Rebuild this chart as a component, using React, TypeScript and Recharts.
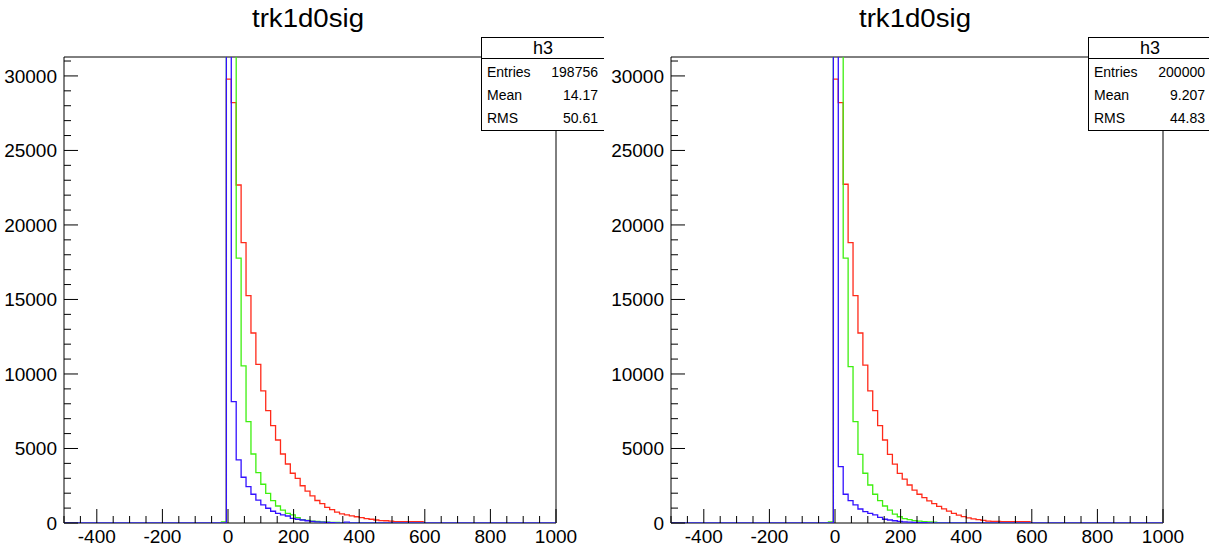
import React from 'react'
import { LineChart, Line, XAxis, YAxis, ReferenceLine } from 'recharts'

// histogram binning: 100 bins of width 15 from -500 to 1000
const BIN_LO = -500
const BIN_HI = 1000
const BIN_W = 15
const N_BINS = 100
const Y_MAX = 31270

// bin contents, listed from the first filled bin (its low edge in *Start)
const leftRedStart = -5
const leftRed = [
  29780, 28210, 22680, 18810, 15260, 12750, 10650, 8860, 7540, 6530,
  5570, 4630, 3960, 3340, 3000, 2500, 2140, 1820, 1510, 1300,
  1050, 900, 730, 610, 540, 480, 420, 360, 290, 250,
  200, 160, 150, 130, 90, 90, 90, 90, 90, 90,
]
const leftGreenStart = -20
const leftGreen = [
  80, 60000, 50000, 17770, 10540, 6800, 4630, 3380, 2600, 1990,
  1500, 1140, 870, 650, 540, 360, 230, 170, 120, 100,
  80, 60, 45, 35, 25, 15,
]
const leftBlueStart = -5
const leftBlue = [
  150000, 8140, 4230, 3070, 2440, 1930, 1540, 1210, 990, 790,
  650, 540, 470, 310, 250, 200, 150, 110, 80, 60,
  45, 30, 0, 0, 60,
]

const rightRedStart = -5
const rightRed = [
  29780, 28210, 22730, 18810, 15260, 12750, 10600, 8860, 7540, 6530,
  5570, 4610, 3950, 3330, 2950, 2550, 2210, 1930, 1700, 1490,
  1300, 1120, 950, 800, 650, 530, 430, 350, 280, 220,
  170, 130, 110, 100, 90, 90, 90, 90, 90, 90,
]
const rightGreenStart = -20
const rightGreen = [
  80, 60000, 50000, 17770, 10490, 6800, 4610, 3340, 2550, 1930,
  1500, 1140, 870, 600, 420, 300, 220, 160, 120, 90,
  70, 50, 30,
]
const rightBlueStart = -5
const rightBlue = [
  150000, 3780, 1930, 1500, 1210, 940, 760, 650, 540, 380,
  250, 200, 150, 110, 80, 60, 40, 30, 20,
]

const xMajor = [-400, -200, 0, 200, 400, 600, 800, 1000]
const yMajor = [0, 5000, 10000, 15000, 20000, 25000, 30000]
const xTicks = Array.from({ length: 31 }, (_, i) => -500 + i * 50)
const yTicks = Array.from({ length: 32 }, (_, i) => i * 1000)

const leftStats = { name: 'h3', entries: '198756', mean: '14.17', rms: '50.61' }
const rightStats = { name: 'h3', entries: '200000', mean: '9.207', rms: '44.83' }

const FONT = '"Liberation Sans", Arial, Helvetica, sans-serif'

function toBins(values: number[], start: number) {
  const out = new Array(N_BINS).fill(0)
  const first = Math.round((start - BIN_LO) / BIN_W)
  values.forEach((v, i) => { out[first + i] = v })
  return out
}

function buildRows(red: number[], redStart: number, green: number[], greenStart: number, blue: number[], blueStart: number) {
  const r = toBins(red, redStart)
  const g = toBins(green, greenStart)
  const b = toBins(blue, blueStart)
  const rows = []
  for (let i = 0; i <= N_BINS; i++) {
    const j = Math.min(i, N_BINS - 1)
    rows.push({ edge: BIN_LO + i * BIN_W, red: r[j], green: g[j], blue: b[j] })
  }
  return rows
}

const leftRows = buildRows(leftRed, leftRedStart, leftGreen, leftGreenStart, leftBlue, leftBlueStart)
const rightRows = buildRows(rightRed, rightRedStart, rightGreen, rightGreenStart, rightBlue, rightBlueStart)

const XTick = (props: any) => {
  const { x, y, payload } = props
  const major = xMajor.includes(payload.value)
  return (
    <g>
      <line x1={x} x2={x} y1={y} y2={y - (major ? 14 : 7)} stroke="#000" strokeWidth={1} />
      {major && (
        <text x={x} y={y + 20} textAnchor="middle" fontSize={19} fontFamily={FONT} fill="#000">
          {payload.value}
        </text>
      )}
    </g>
  )
}

const YTick = (props: any) => {
  const { x, y, payload } = props
  const major = yMajor.includes(payload.value)
  return (
    <g>
      <line x1={x} x2={x + (major ? 14 : 7)} y1={y} y2={y} stroke="#000" strokeWidth={1} />
      {major && (
        <text x={x - 7} y={y + 7} textAnchor="end" fontSize={19} fontFamily={FONT} fill="#000">
          {payload.value}
        </text>
      )}
    </g>
  )
}

function Panel({ rows, stats, left }: { rows: any[]; stats: typeof leftStats; left: number }) {
  return (
    <div style={{ position: 'absolute', left, top: 0, width: 604, height: 549 }}>
      <LineChart width={604} height={549} data={rows} margin={{ top: 57, right: 48, bottom: 6, left: 4 }}>
        <XAxis
          dataKey="edge"
          type="number"
          domain={[BIN_LO, BIN_HI]}
          ticks={xTicks}
          interval={0}
          tickSize={0}
          tickMargin={0}
          tickLine={false}
          axisLine={{ stroke: '#000' }}
          tick={(p: any) => <XTick {...p} />}
          height={20}
          allowDataOverflow
        />
        <YAxis
          type="number"
          domain={[0, Y_MAX]}
          ticks={yTicks}
          interval={0}
          tickSize={0}
          tickMargin={0}
          tickLine={false}
          axisLine={{ stroke: '#000' }}
          tick={(p: any) => <YTick {...p} />}
          width={60}
          allowDataOverflow
        />
        <ReferenceLine y={Y_MAX} stroke="#000" />
        <ReferenceLine x={BIN_HI} stroke="#000" />
        <Line type="stepAfter" dataKey="red" stroke="#ff2a1a" strokeWidth={1.3} dot={false} isAnimationActive={false} zIndex={600} />
        <Line type="stepAfter" dataKey="green" stroke="#3fef10" strokeWidth={1.3} dot={false} isAnimationActive={false} zIndex={600} />
        <Line type="stepAfter" dataKey="blue" stroke="#3311ff" strokeWidth={1.3} dot={false} isAnimationActive={false} zIndex={600} />
      </LineChart>
      <svg width={604} height={549} style={{ position: 'absolute', left: 0, top: 0, pointerEvents: 'none' }}>
        <text x={308} y={27} textAnchor="middle" fontSize={26} textLength={112} lengthAdjust="spacingAndGlyphs" fontFamily={FONT} fill="#000">trk1d0sig</text>
        <rect x={481.5} y={37.5} width={124} height={93} fill="#fff" stroke="#000" strokeWidth={1} />
        <line x1={481.5} x2={605.5} y1={58.5} y2={58.5} stroke="#000" strokeWidth={1} />
        <text x={543} y={54} textAnchor="middle" fontSize={18} fontFamily={FONT} fill="#000">{stats.name}</text>
        <text x={487} y={77} fontSize={14} fontFamily={FONT} fill="#000">Entries</text>
        <text x={598} y={77} textAnchor="end" fontSize={14} fontFamily={FONT} fill="#000">{stats.entries}</text>
        <text x={487} y={100} fontSize={14} fontFamily={FONT} fill="#000">Mean</text>
        <text x={598} y={100} textAnchor="end" fontSize={14} fontFamily={FONT} fill="#000">{stats.mean}</text>
        <text x={487} y={123} fontSize={14} fontFamily={FONT} fill="#000">RMS</text>
        <text x={598} y={123} textAnchor="end" fontSize={14} fontFamily={FONT} fill="#000">{stats.rms}</text>
      </svg>
    </div>
  )
}

export default function App() {
  return (
    <div style={{ position: 'absolute', left: 0, top: 0, width: 1209, height: 549, overflow: 'hidden', background: '#fff' }}>
      {/* clip the histograms at the frame top but let the zero line sit on the axis */}
      <style>{'.recharts-line { clip-path: url(#histFrameClip); }'}</style>
      <svg width={0} height={0} style={{ position: 'absolute' }}>
        <defs>
          <clipPath id="histFrameClip" clipPathUnits="userSpaceOnUse">
            <rect x={62} y={57} width={496} height={470} />
          </clipPath>
        </defs>
      </svg>
      <Panel rows={leftRows} stats={leftStats} left={0} />
      <Panel rows={rightRows} stats={rightStats} left={607} />
    </div>
  )
}
